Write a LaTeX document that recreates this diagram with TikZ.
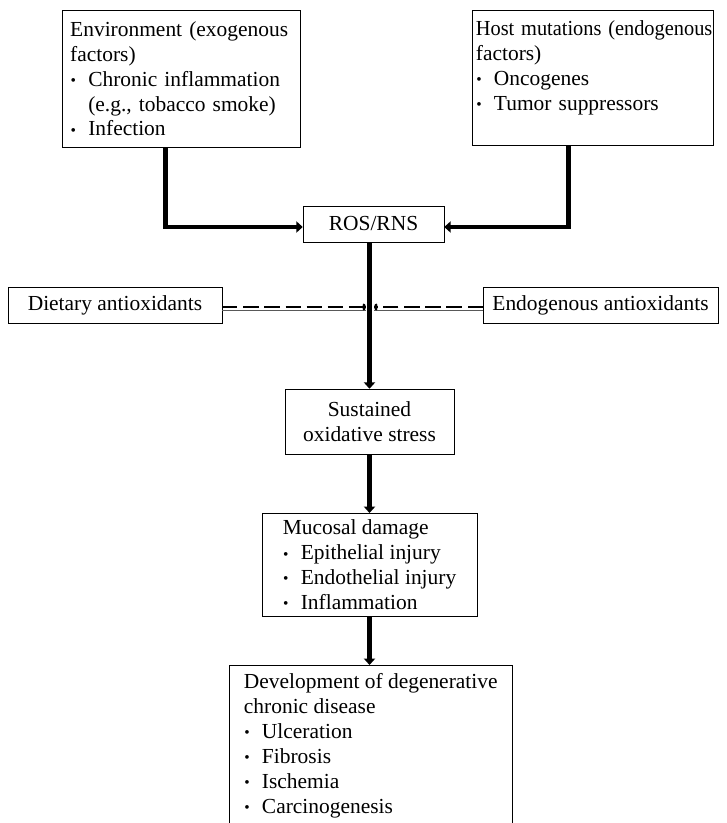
\documentclass[tikz,border=0pt]{standalone}
\usepackage{fontspec}
\setmainfont{Liberation Serif}
\usetikzlibrary{arrows.meta, positioning, calc}
\hyphenpenalty=10000

% small bullet with hanging indent
\newcommand{\bul}{\makebox[15.4pt][l]{\hspace{0.3pt}\raisebox{0.6pt}{\scalebox{0.72}{\textbullet}}}}
\newcommand{\ind}{\hspace*{15.4pt}}

\begin{document}
\begin{tikzpicture}[
    x=0.03cm, y=-0.03cm,
    box/.style={draw, thin, inner xsep=0.24cm, inner ysep=0.2cm, align=left,
        font=\fontsize{18.3}{21.3}\selectfont},
    cbox/.style={box, align=center},
    flow/.style={line width=4pt, -{Triangle[length=5.5pt, width=9.5pt]}},
    inhib/.style={line width=2.2pt, dash pattern=on 13pt off 5pt, -{To[length=3pt, width=6pt]}},
    thinline/.style={line width=0.6pt, gray!70!black},
]
    \useasboundingbox (0,0) rectangle (726,823);
    \clip (0,0) rectangle (726,823);

    % Causes
    \node[box, anchor=north west, text width=6.66cm, minimum height=4.11cm] (env) at (62,10)
        {Environment (exogenous\\ factors)\\ \bul Chronic inflammation\\ \ind(e.g., tobacco smoke)\\ \bul Infection};
    \node[box, anchor=north west, inner xsep=0.11cm, text width=7.01cm, minimum height=4.05cm] (host) at (472,10)
        {\scalebox{0.95}[1]{Host mutations (endogenous}\\ factors)\\ \bul Oncogenes\\ \bul Tumor suppressors\\ \mbox{}};

    % Central species
    \node[cbox, minimum width=4.23cm, minimum height=1.08cm] (ros) at (373.5,224) {ROS/RNS};

    % Antioxidants
    \node[cbox, minimum width=6.42cm, minimum height=1.08cm] (diet) at (115,305) {Dietary antioxidants};
    \node[cbox, minimum width=7.05cm, minimum height=1.08cm] (endo) at (600.5,305) {Endogenous antioxidants};

    % Consequences
    \node[cbox, minimum width=5.07cm, minimum height=1.95cm] (sust) at (369.5,421.5)
        {Sustained\\ oxidative stress};
    \node[box, anchor=north, minimum width=6.45cm, minimum height=3cm] (muc) at (369.5,513)
        {Mucosal damage\\ \bul Epithelial injury\\ \bul Endothelial injury\\ \bul Inflammation};
    \node[box, anchor=north west, minimum width=8.49cm, inner ysep=0.24cm] (dev) at (229,665)
        {Development of degenerative\\ chronic disease\\ \bul Ulceration\\ \bul Fibrosis\\ \bul Ischemia\\ \bul Carcinogenesis};

    % Main flow
    \draw[flow] ([xshift=-0.48cm]env.south) |- ([yshift=-0.09cm]ros.west);
    \draw[flow] ([xshift=-0.735cm]host.south) |- ([yshift=-0.09cm]ros.east);
    \draw[flow] (ros.south -| sust.north) -- (sust.north);
    \draw[flow] (sust.south) -- (muc.north);
    \draw[flow] (muc.south) -- (muc.south |- dev.north);

    % Antioxidant inhibition
    \coordinate (hitL) at (366,307);
    \coordinate (hitR) at (374,307);
    \draw[thinline] ([yshift=-2.5pt]diet.east |- hitL) -- ([yshift=-2.5pt]hitL);
    \draw[thinline] ([yshift=-2.5pt]endo.west |- hitR) -- ([yshift=-2.5pt]hitR);
    \draw[inhib] (diet.east |- hitL) -- (hitL);
    \draw[inhib] (endo.west |- hitR) -- (hitR);
\end{tikzpicture}
\end{document}
